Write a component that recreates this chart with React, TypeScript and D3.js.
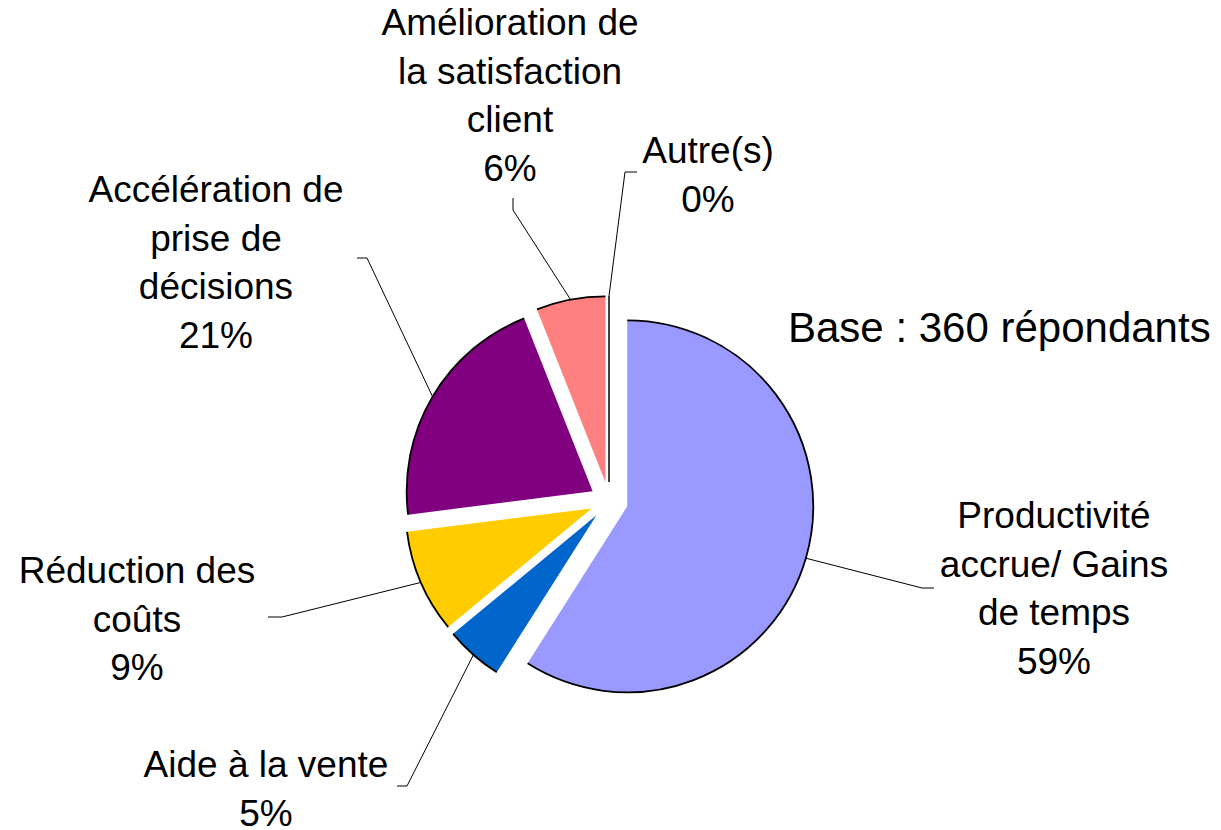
import React from 'react';
import * as d3 from 'd3';

// slices, clockwise from 12 o'clock
const labels = [
  ['Productivité', 'accrue/ Gains', 'de temps'],
  ['Aide à la vente'],
  ['Réduction des', 'coûts'],
  ['Accélération de', 'prise de', 'décisions'],
  ['Amélioration de', 'la satisfaction', 'client'],
  ['Autre(s)'],
];
const values = [59, 5, 9, 21, 6, 0];
const colors = ['#9999FF', '#0066CC', '#FFCC00', '#800080', '#FF8080', '#FFFFFF'];
const baseNote = 'Base : 360 répondants';

// label placement (centre x, first baseline) and leader elbow / end
const labelLayout = [
  { cx: 1054, y: 528, elbow: [922, 588], end: [934, 588] },
  { cx: 266, y: 777, elbow: [407, 786], end: [397, 786] },
  { cx: 137, y: 583, elbow: [282, 617], end: [268, 617] },
  { cx: 216, y: 202, elbow: [367, 258], end: [357, 258] },
  { cx: 510, y: 35, elbow: [513, 210], end: [513, 198] },
  { cx: 708, y: 163, elbow: [625, 172], end: [637, 172] },
];

const width = 1221;
const height = 830;
const cx = 609;
const cy = 501;
const radius = 186;
const explode = 19;
const lineH = 48.5;
const font = '"Liberation Sans", Arial, sans-serif';

export default function App() {
  const pieFn = d3.pie<number>().sort(null).value((d) => d);
  const arcFn = d3.arc<d3.PieArcDatum<number>>().innerRadius(0).outerRadius(radius);
  const slices = pieFn(values);

  return (
    <svg
      width={width}
      height={height}
      style={{ position: 'absolute', left: 0, top: 0, background: '#fff' }}
      fontFamily={font}
    >
      <g transform={`translate(${cx},${cy})`}>
        {slices.map((s, i) => {
          const mid = (s.startAngle + s.endAngle) / 2;
          const ox = explode * Math.sin(mid);
          const oy = -explode * Math.cos(mid);
          const rim = d3.path();
          rim.arc(0, 0, radius, s.startAngle - Math.PI / 2, s.endAngle - Math.PI / 2);
          return (
            <g key={i} transform={`translate(${ox},${oy})`}>
              {s.value > 0 ? (
                <>
                  <path d={arcFn(s) || ''} fill={colors[i]} />
                  <path d={rim.toString()} fill="none" stroke="#000" strokeWidth={1.8} />
                </>
              ) : (
                <line
                  x1={0}
                  y1={0}
                  x2={radius * Math.sin(mid)}
                  y2={-radius * Math.cos(mid)}
                  stroke="#000"
                  strokeWidth={1.5}
                />
              )}
            </g>
          );
        })}
      </g>

      {/* leader lines */}
      {slices.map((s, i) => {
        const mid = (s.startAngle + s.endAngle) / 2;
        const px = cx + (explode + radius) * Math.sin(mid);
        const py = cy - (explode + radius) * Math.cos(mid);
        const L = labelLayout[i];
        return (
          <polyline
            key={i}
            points={`${px},${py} ${L.elbow[0]},${L.elbow[1]} ${L.end[0]},${L.end[1]}`}
            fill="none"
            stroke="#000"
            strokeWidth={1}
          />
        );
      })}

      {/* labels */}
      {labels.map((lines, i) => {
        const L = labelLayout[i];
        const all = [...lines, `${values[i]}%`];
        return (
          <text key={i} textAnchor="middle" fontSize={37} fill="#000">
            {all.map((t, j) => (
              <tspan key={j} x={L.cx} y={L.y + j * lineH}>
                {t}
              </tspan>
            ))}
          </text>
        );
      })}

      <text x={788} y={342} fontSize={42} fill="#000">
        {baseNote}
      </text>
    </svg>
  );
}
